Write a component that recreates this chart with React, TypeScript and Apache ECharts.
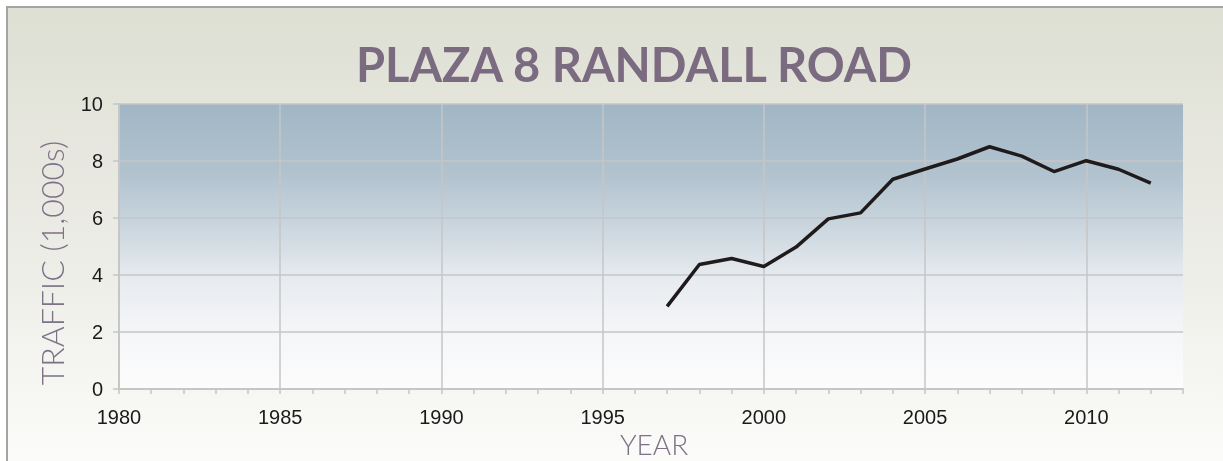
import React, { useEffect, useRef } from "react";
import * as echarts from "echarts";

const titleText = "PLAZA 8 RANDALL ROAD";
const yAxisTitle = "TRAFFIC (1,000s)";
const xAxisTitle = "YEAR";

const years = [1997, 1998, 1999, 2000, 2001, 2002, 2003, 2004, 2005, 2006, 2007, 2008, 2009, 2010, 2011, 2012];
const traffic = [2.9, 4.37, 4.58, 4.3, 4.98, 5.97, 6.18, 7.36, 7.72, 8.07, 8.5, 8.17, 7.63, 8.01, 7.71, 7.22];
const gridYears = [1985, 1990, 1995, 2000, 2005, 2010];

const xMin = 1980;
const xMax = 2013;
const yMin = 0;
const yMax = 10;

export default function App() {
  const ref = useRef<HTMLDivElement>(null);
  useEffect(() => {
    if (!ref.current) return;
    const chart = echarts.init(ref.current, null, { renderer: "svg" });
    const gray = "#c6c6c6";
    chart.setOption({
      animation: false,
      graphic: [
        {
          type: "rect",
          z: -100,
          silent: true,
          shape: { x: 7, y: 7, width: 1240, height: 480 },
          style: {
            fill: new echarts.graphic.LinearGradient(0, 0, 0, 1, [
              { offset: 0, color: "#dedfd3" },
              { offset: 0.5, color: "#ecece6" },
              { offset: 1, color: "#fdfdfc" },
            ]),
            stroke: "#a4a4a4",
            lineWidth: 2,
          },
        },
        {
          type: "text",
          x: 634,
          y: 64,
          style: {
            text: titleText,
            font: "bold 47px Lato",
            fill: "#7b6b80",
            align: "center",
            verticalAlign: "middle",
          },
        },
        {
          type: "text",
          x: 51,
          y: 263,
          rotation: Math.PI / 2,
          style: {
            text: yAxisTitle,
            font: "300 32px Lato",
            fill: "#7e7286",
            align: "center",
            verticalAlign: "middle",
          },
        },
        {
          type: "text",
          x: 654,
          y: 444,
          style: {
            text: xAxisTitle,
            font: "300 28px Lato",
            fill: "#7e7286",
            align: "center",
            verticalAlign: "middle",
          },
        },
      ],
      grid: {
        left: 119,
        right: 40,
        top: 104,
        bottom: 72,
        show: true,
        borderWidth: 0,
        backgroundColor: new echarts.graphic.LinearGradient(0, 0, 0, 1, [
          { offset: 0, color: "#a1b6c5" },
          { offset: 0.25, color: "#b2c3cf" },
          { offset: 0.45, color: "#cdd8e0" },
          { offset: 0.6, color: "#e6eaee" },
          { offset: 0.8, color: "#f5f6f8" },
          { offset: 1, color: "#fcfcfc" },
        ]),
      },
      xAxis: {
        type: "value",
        min: xMin,
        max: xMax,
        interval: 1,
        axisLine: { show: true, lineStyle: { color: gray, width: 2 } },
        axisTick: { show: true, length: 5, lineStyle: { color: gray, width: 1.5 } },
        axisLabel: {
          margin: 18,
          fontSize: 20,
          fontFamily: "Liberation Sans, Arial",
          color: "#1a1a1a",
          formatter: (v: number) => (v % 5 === 0 ? String(v) : ""),
        },
        splitLine: { show: false },
      },
      yAxis: {
        type: "value",
        min: yMin,
        max: yMax,
        interval: 2,
        axisLine: { show: true, lineStyle: { color: gray, width: 2 } },
        axisTick: { show: true, length: 6, lineStyle: { color: gray, width: 1.5 } },
        axisLabel: {
          margin: 16,
          fontSize: 20,
          fontFamily: "Liberation Sans, Arial",
          color: "#1a1a1a",
        },
        splitLine: { show: true, lineStyle: { color: gray, width: 1.5 } },
      },
      series: [
        {
          type: "line",
          data: years.map((y, i) => [y, traffic[i]]),
          showSymbol: false,
          symbol: "none",
          lineStyle: { color: "#1f1b1c", width: 3.5 },
          markLine: {
            silent: true,
            symbol: "none",
            label: { show: false },
            lineStyle: { color: gray, width: 1.5, type: "solid" },
            data: gridYears.map((g) => ({ xAxis: g })),
            z: 1,
          },
          z: 5,
        },
      ],
    });
    return () => chart.dispose();
  }, []);
  return (
    <div
      ref={ref}
      style={{ position: "fixed", left: 0, top: 0, width: 1223, height: 461 }}
    />
  );
}
